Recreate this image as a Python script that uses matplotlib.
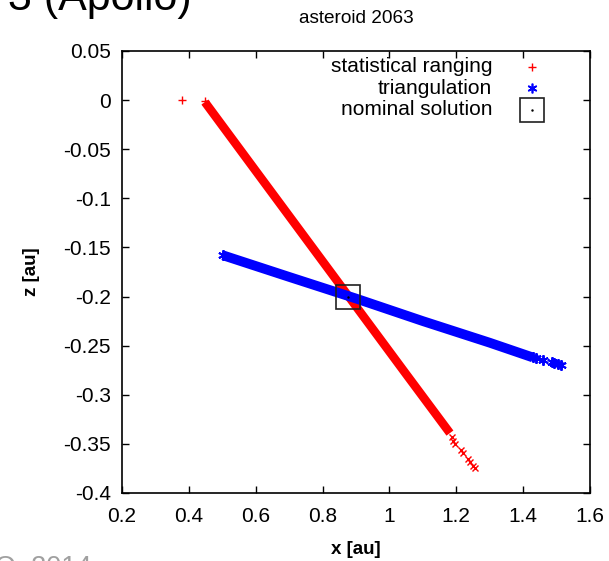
import numpy as np
import matplotlib
matplotlib.use("Agg")
import matplotlib.pyplot as plt

plt.rcParams['font.family'] = ['Liberation Sans', 'DejaVu Sans']

# statistical ranging: dense band through the points, sparse tails drawn as markers
ranging_x = [0.448, 0.60, 0.75, 0.90, 1.05, 1.181]
ranging_z = [-0.002, -0.072, -0.141, -0.210, -0.279, -0.339]
ranging_outlier_x = [0.379, 0.448, 0.452]
ranging_outlier_z = [0.000, -0.001, -0.004]
ranging_tail_x = [1.186, 1.190, 1.195, 1.214, 1.220, 1.235, 1.242, 1.250, 1.256]
ranging_tail_z = [-0.343, -0.347, -0.350, -0.356, -0.359, -0.365, -0.368, -0.373, -0.375]

# triangulation band and its sparse end
triang_x = [0.502, 0.70, 0.90, 1.10, 1.30, 1.429]
triang_z = [-0.158, -0.180, -0.202, -0.225, -0.247, -0.262]
triang_tail_x = [0.502, 1.429, 1.438, 1.459, 1.486, 1.492, 1.505, 1.512]
triang_tail_z = [-0.158, -0.262, -0.263, -0.265, -0.267, -0.268, -0.269, -0.270]

nominal_x = [0.876]
nominal_z = [-0.200]

xticks = [0.2, 0.4, 0.6, 0.8, 1.0, 1.2, 1.4, 1.6]
yticks = [0.05, 0, -0.05, -0.1, -0.15, -0.2, -0.25, -0.3, -0.35, -0.4]

fig = plt.figure(figsize=(6.09, 5.61), dpi=100)
ax = fig.add_axes([122 / 609, 1 - 493 / 561, 468 / 609, 442 / 561])

red = '#ff0000'
blue = '#0000ff'

ax.plot(ranging_x, ranging_z, color=red, lw=6.2, solid_capstyle='butt')
ax.plot(ranging_outlier_x, ranging_outlier_z, ls='none', marker='+', ms=6, mew=1, color=red)
ax.plot(ranging_tail_x, ranging_tail_z, ls='none', marker='x', ms=5, mew=1, color=red)

ax.plot(triang_x, triang_z, color=blue, lw=7, solid_capstyle='butt')
ax.plot(triang_tail_x, triang_tail_z, ls='none', marker=(6, 2, 0), ms=7.5, mew=1.4, color=blue)

ax.plot(nominal_x, nominal_z, ls='none', marker='s', ms=17.3, mfc='none', mec='#202020', mew=1.2)
ax.plot(nominal_x, nominal_z, ls='none', marker='.', ms=1.5, color='black')

ax.set_xlim(0.2, 1.6)
ax.set_ylim(-0.4, 0.05)
ax.set_xticks(xticks)
ax.set_yticks(yticks)
ax.set_xticklabels(['0.2', '0.4', '0.6', '0.8', '1', '1.2', '1.4', '1.6'])
ax.set_yticklabels(['0.05', '0', '-0.05', '-0.1', '-0.15', '-0.2', '-0.25', '-0.3', '-0.35', '-0.4'])
ax.tick_params(direction='in', length=5, width=1, top=True, right=True, labelsize=15)
ax.tick_params(axis='x', pad=10)
ax.tick_params(axis='y', pad=8)
for s in ax.spines.values():
    s.set_linewidth(1.2)

ax.set_xlabel('x [au]', fontsize=13.5, fontweight='bold', labelpad=11)
ax.set_ylabel('z [au]', fontsize=13.5, fontweight='bold', labelpad=17)
ax.set_title('asteroid 2063', fontsize=13.7, pad=20)

# key in the upper right, labels right-aligned with symbols after them
labels = ['statistical ranging', 'triangulation', 'nominal solution']
rows = [0.964, 0.916, 0.867]
for lab, yy in zip(labels, rows):
    ax.text(0.791, yy, lab, transform=ax.transAxes, ha='right', va='center', fontsize=15)
ax.plot([0.876], [rows[0]], transform=ax.transAxes, marker='+', ms=6, mew=1, color=red,
        ls='none', clip_on=False)
ax.plot([0.876], [rows[1]], transform=ax.transAxes, marker=(6, 2, 0), ms=7, mew=1.2,
        color=blue, ls='none', clip_on=False)
ax.plot([0.876], [rows[2]], transform=ax.transAxes, marker='s', ms=17.3, mfc='none',
        mec='#202020', mew=1.2, ls='none', clip_on=False)
ax.plot([0.876], [rows[2]], transform=ax.transAxes, marker='.', ms=1.5, color='black',
        ls='none', clip_on=False)

# slide text around the chart
fig.text(8 / 609, 1 - 10 / 561, '3 (Apollo)', fontsize=31, ha='left', va='baseline')
fig.text(-5 / 609, 1 - 575 / 561, 'O, 2014', fontsize=19.5, color='#a0a0a0',
         ha='left', va='baseline')

fig.savefig('out.png', dpi=100)
